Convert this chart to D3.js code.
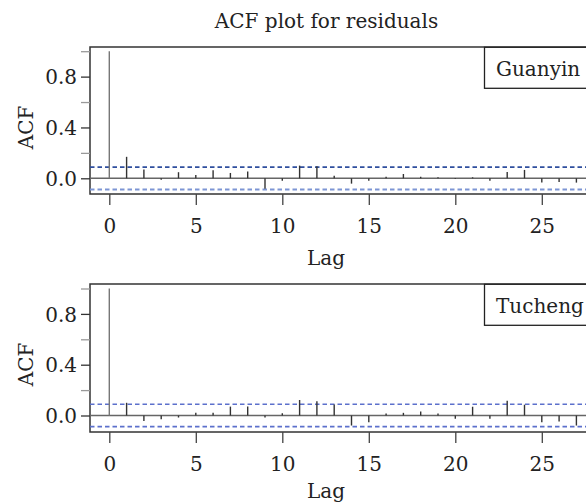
<!DOCTYPE html>
<html>
<head>
<meta charset="utf-8">
<script src="https://cdn.jsdelivr.net/npm/d3@7"></script>
<style>
  html, body { margin: 0; padding: 0; background: #fff; }
  svg { display: block; }
  text { font-family: "DejaVu Serif", serif; fill: #222; }
</style>
</head>
<body>
<div id="chart"></div>
<script>
// ---- data ----
const lags = [0,1,2,3,4,5,6,7,8,9,10,11,12,13,14,15,16,17,18,19,20,21,22,23,24,25,26,27];
const guanyinACF = [1.0, 0.169, 0.069, -0.011, 0.048, 0.026, 0.063, 0.042, 0.053, -0.083,
  -0.019, 0.100, 0.095, 0.021, -0.042, -0.020, 0.013, 0.034, 0.013, 0.008,
  -0.005, 0.008, -0.020, 0.050, 0.066, -0.034, -0.029, -0.034];
const tuchengACF = [1.0, 0.100, -0.043, -0.030, -0.016, 0.022, 0.022, 0.070, 0.070, -0.016,
  0.018, 0.122, 0.113, 0.087, -0.079, -0.053, 0.016, 0.021, 0.032, 0.016,
  -0.026, 0.069, -0.026, 0.116, 0.085, -0.053, -0.048, -0.079];
const confBound = 0.088;
const xTickValues = [0, 5, 10, 15, 20, 25];
const yTickValues = [0, 0.2, 0.4, 0.6, 0.8, 1.0];
const yLabelled = [0, 0.4, 0.8];
const panelNames = ["Guanyin", "Tucheng"];
const title = "ACF plot for residuals";
const xLabel = "Lag";
const yLabel = "ACF";

// ---- layout ----
const W = 586, H = 504;
const svg = d3.select("#chart").append("svg").attr("width", W).attr("height", H);

const x = d3.scaleLinear().domain([0, 25]).range([109.3, 541.8]);
const boxLeft = 90, boxRight = 640;

svg.append("text").attr("x", 326.5).attr("y", 28).attr("text-anchor", "middle")
  .style("font-size", "20px").text(title);

const panels = [
  { name: panelNames[0], values: guanyinACF, top: 47, bottom: 194, zero: 178.3, one: 51.2,
    upperColor: "#2f4f9e", lowerColor: "#7d95d4", labelY: 76, lagY: 265 },
  { name: panelNames[1], values: tuchengACF, top: 284, bottom: 432, zero: 415.5, one: 288.5,
    upperColor: "#5c70cc", lowerColor: "#5c70cc", labelY: 313, lagY: 498 }
];

panels.forEach(p => {
  const y = d3.scaleLinear().domain([0, 1]).range([p.zero, p.one]);
  const g = svg.append("g");

  // panel box
  g.append("rect").attr("x", boxLeft).attr("y", p.top)
    .attr("width", boxRight - boxLeft).attr("height", p.bottom - p.top)
    .attr("fill", "none").attr("stroke", "#333").attr("stroke-width", 1.5);

  // zero line
  g.append("line").attr("x1", boxLeft).attr("x2", boxRight)
    .attr("y1", y(0)).attr("y2", y(0)).attr("stroke", "#666").attr("stroke-width", 1.5);

  // confidence bounds
  g.append("line").attr("x1", boxLeft).attr("x2", boxRight)
    .attr("y1", y(confBound)).attr("y2", y(confBound))
    .attr("stroke", p.upperColor).attr("stroke-width", 1.6).attr("stroke-dasharray", "4.5,3");
  g.append("line").attr("x1", boxLeft).attr("x2", boxRight)
    .attr("y1", y(-confBound)).attr("y2", y(-confBound))
    .attr("stroke", p.lowerColor).attr("stroke-width", 1.8).attr("stroke-dasharray", "4.5,3");

  // ACF spikes
  g.selectAll("line.spike").data(lags).join("line").attr("class", "spike")
    .attr("x1", d => x(d)).attr("x2", d => x(d))
    .attr("y1", y(0)).attr("y2", (d, i) => y(p.values[i]))
    .attr("stroke", (d, i) => i === 0 ? "#777" : "#333")
    .attr("stroke-width", 1.4);

  // x axis
  const xa = g.append("g").attr("transform", `translate(0,${p.bottom})`)
    .call(d3.axisBottom(x).tickValues(xTickValues).tickSize(11).tickFormat(d3.format("d")));
  xa.select(".domain").remove();
  xa.selectAll(".tick line").attr("stroke", "#444").attr("stroke-width", 1.3);
  xa.selectAll(".tick text").attr("y", 39).attr("dy", 0)
    .style("font-size", "20px").style("font-family", "DejaVu Serif").attr("fill", "#222");

  // y axis
  const ya = g.append("g").attr("transform", `translate(${boxLeft},0)`)
    .call(d3.axisLeft(y).tickValues(yTickValues).tickSize(9).tickPadding(4)
      .tickFormat(d => yLabelled.some(v => Math.abs(v - d) < 1e-9) ? d3.format(".1f")(d) : ""));
  ya.select(".domain").remove();
  ya.selectAll(".tick line")
    .attr("stroke", d => yLabelled.some(v => Math.abs(v - d) < 1e-9) ? "#333" : "#999")
    .attr("stroke-width", 1.3);
  ya.selectAll(".tick text").attr("dy", "0.36em")
    .style("font-size", "20px").style("font-family", "DejaVu Serif").attr("fill", "#222");

  // axis titles
  g.append("text").attr("x", 326).attr("y", p.lagY).attr("text-anchor", "middle")
    .style("font-size", "20px").text(xLabel);
  g.append("text").attr("transform", `translate(33,${p.top + 80.5}) rotate(-90)`)
    .attr("text-anchor", "middle").style("font-size", "20px").text(yLabel);

  // legend box
  g.append("rect").attr("x", 484.5).attr("y", p.top + 0.3).attr("width", 140).attr("height", 41)
    .attr("fill", "#fff").attr("stroke", "#222").attr("stroke-width", 1.3);
  g.append("text").attr("x", 496).attr("y", p.labelY).style("font-size", "20px").text(p.name);
});
</script>
</body>
</html>
